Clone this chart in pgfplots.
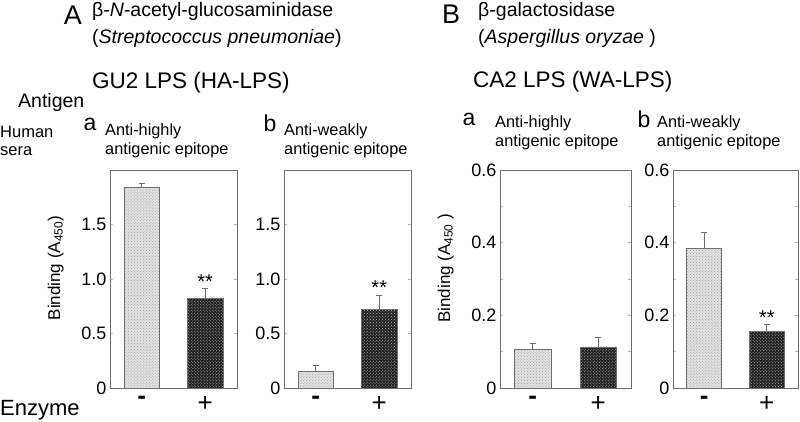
\documentclass[border=0pt]{standalone}
\usepackage{pgfplots}
\pgfplotsset{compat=1.18}
\usepackage{fontspec}
\setmainfont{Liberation Sans}
\usetikzlibrary{patterns}
\definecolor{axgray}{HTML}{6E6E6E}
\newcommand{\fs}[1]{\fontsize{#1bp}{#1bp}\selectfont}
\pgfplotsset{
  panel/.style={
    scale only axis, width=127bp, height=218bp,
    xmin=-0.5, xmax=1.5, ymin=0,
    axis line style={axgray, line width=0.9bp},
    xtick={0,1}, xticklabels={\textbf{-},+},
    xticklabel style={font=\fs{26}, yshift=-2bp},
    x tick style={draw=none},
    tick align=inside,
    y tick style={axgray!50, line width=0.5bp},
    major tick length=3bp, minor tick length=3bp,
    yticklabel style={font=\fs{18}, /pgf/number format/assume math mode=true},
    ylabel style={font=\fs{17}, at={(ticklabel cs:0.55)}, anchor=near ticklabel},
    ylabel shift=11bp,
    bar width=0.56, ybar, bar shift=0pt,
    error bars/y dir=plus, error bars/y explicit,
    error bars/error bar style={axgray, line width=0.9bp},
    error bars/error mark options={rotate=90, axgray, mark size=3bp, line width=0.9bp},
  },
  lightbar/.style={draw=axgray, line width=0.8bp, fill=gray!22,
    postaction={pattern=crosshatch dots, pattern color=gray!75}},
  darkbar/.style={draw=axgray, line width=0.8bp, fill=black!88,
    postaction={pattern=crosshatch dots, pattern color=gray!55}},
}
\begin{document}
\begin{tikzpicture}[x=1bp,y=1bp]
\path[use as bounding box] (0,0) rectangle (800,421);

% ---- Panel A a
\begin{axis}[panel, at={(110bp,33bp)}, ymax=2.0,
  ytick={0,0.5,1.0,1.5}, yticklabels={0,0.5,1.0,1.5},
  ylabel={Binding (A\textsubscript{450})}]
\addplot[lightbar] coordinates {(0,1.84) +- (0,0.04)};
\addplot[darkbar] coordinates {(1,0.82) +- (0,0.09)};
\node[font=\fs{20}] at (axis cs:1,0.98) {**};
\end{axis}

% ---- Panel A b
\begin{axis}[panel, at={(284bp,33bp)}, ymax=2.0,
  ytick={0,0.5,1.0,1.5}, yticklabels={0,0.5,1.0,1.5}]
\addplot[lightbar] coordinates {(0,0.156) +- (0,0.055)};
\addplot[darkbar] coordinates {(1,0.72) +- (0,0.13)};
\node[font=\fs{20}] at (axis cs:1,0.92) {**};
\end{axis}

% ---- Panel B a
\begin{axis}[panel, at={(500bp,33bp)}, width=131bp, ymax=0.6,
  ytick={0,0.2,0.4,0.6}, yticklabels={0,0.2,0.4,0.6},
  minor ytick={0.1,0.3,0.5},
  ylabel={Binding (A\textsubscript{450} )}]
\addplot[lightbar] coordinates {(0,0.105) +- (0,0.019)};
\addplot[darkbar] coordinates {(1,0.113) +- (0,0.027)};
\end{axis}

% ---- Panel B b
\begin{axis}[panel, at={(673bp,33bp)}, width=125bp, ymax=0.6,
  ytick={0,0.2,0.4,0.6}, yticklabels={0,0.2,0.4,0.6},
  minor ytick={0.1,0.3,0.5}]
\addplot[lightbar] coordinates {(0,0.384) +- (0,0.044)};
\addplot[darkbar] coordinates {(1,0.155) +- (0,0.02)};
\node[font=\fs{20}] at (axis cs:1,0.195) {**};
\end{axis}

% ---- Texts
\node[font=\fs{27}] at (73,406) {A};
\node[font=\fs{19.5}, anchor=west, inner sep=0] at (92,410) {β-\textit{N}-acetyl-glucosaminidase};
\node[font=\fs{19.5}, anchor=west, inner sep=0] at (92,383) {(\textit{Streptococcus pneumoniae})};
\node[font=\fs{22.5}, anchor=west, inner sep=0] at (92,338) {GU2 LPS (HA-LPS)};
\node[font=\fs{19.5}, anchor=west, inner sep=0] at (18,319) {Antigen};
\node[font=\fs{16.5}, anchor=west, inner sep=0] at (0,289) {Human};
\node[font=\fs{16.5}, anchor=west, inner sep=0] at (0,270) {sera};
\node[font=\fs{23}] at (90,297) {a};
\node[font=\fs{16.3}, anchor=west, inner sep=0] at (105,290) {Anti-highly};
\node[font=\fs{16.3}, anchor=west, inner sep=0] at (105,271) {antigenic epitope};
\node[font=\fs{23}] at (270,298) {b};
\node[font=\fs{16.3}, anchor=west, inner sep=0] at (284,290) {Anti-weakly};
\node[font=\fs{16.3}, anchor=west, inner sep=0] at (284,271) {antigenic epitope};

\node[font=\fs{27}] at (451,407) {B};
\node[font=\fs{19.5}, anchor=west, inner sep=0] at (478,410) {β-galactosidase};
\node[font=\fs{19.5}, anchor=west, inner sep=0] at (478,383) {(\textit{Aspergillus oryzae} )};
\node[font=\fs{22.5}, anchor=west, inner sep=0] at (473,339) {CA2 LPS (WA-LPS)};
\node[font=\fs{23}] at (469,302) {a};
\node[font=\fs{16.3}, anchor=west, inner sep=0] at (495,298) {Anti-highly};
\node[font=\fs{16.3}, anchor=west, inner sep=0] at (495,279) {antigenic epitope};
\node[font=\fs{23}] at (644,302) {b};
\node[font=\fs{16.3}, anchor=west, inner sep=0] at (657,298) {Anti-weakly};
\node[font=\fs{16.3}, anchor=west, inner sep=0] at (657,279) {antigenic epitope};

\node[font=\fs{22}, anchor=west, inner sep=0] at (0,11) {Enzyme};
\end{tikzpicture}
\end{document}
